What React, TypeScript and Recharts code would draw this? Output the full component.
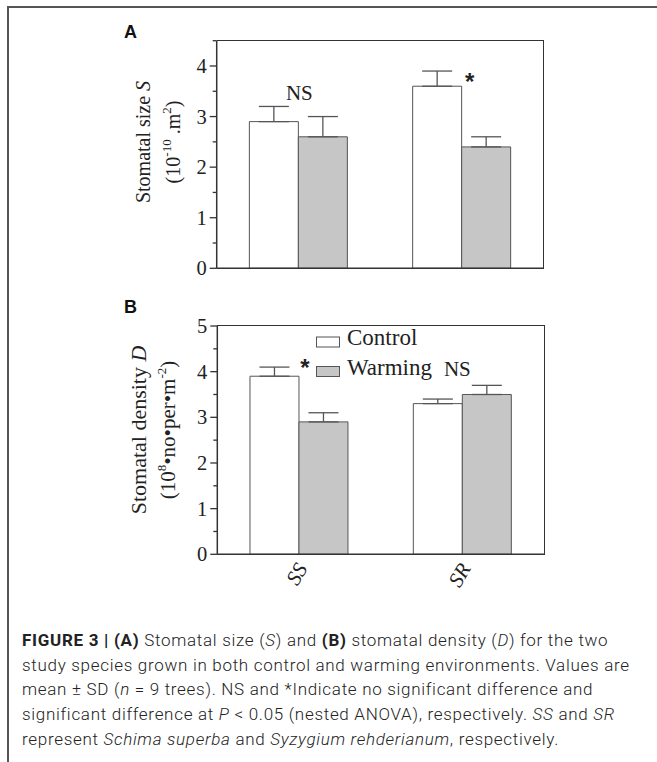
import React from 'react';
import { BarChart, Bar, XAxis, YAxis, ErrorBar, Legend, ReferenceDot } from 'recharts';

const species = ['SS', 'SR'];
const seriesNames = ['Control', 'Warming'];

const sizeControl = [2.9, 3.6];
const sizeControlSD = [0.3, 0.3];
const sizeWarming = [2.6, 2.4];
const sizeWarmingSD = [0.4, 0.2];

const densityControl = [3.9, 3.3];
const densityControlSD = [0.2, 0.1];
const densityWarming = [2.9, 3.5];
const densityWarmingSD = [0.2, 0.2];

const sizeTicks = [0, 0.5, 1, 1.5, 2, 2.5, 3, 3.5, 4, 4.5];
const densityTicks = [0, 0.5, 1, 1.5, 2, 2.5, 3, 3.5, 4, 4.5, 5];
const sizeMax = 4.5;
const densityMax = 5;

// significance labels: category, y value, text, x offset
const sizeSig = [
  { cat: 'SS', y: 3.32, text: 'NS', dx: 1 },
  { cat: 'SR', y: 3.52, text: '*', dx: 8 },
];
const densitySig = [
  { cat: 'SS', y: 3.9, text: '*', dx: 6 },
  { cat: 'SR', y: 3.9, text: 'NS', dx: -5 },
];

const sizeData = species.map((name, i) => ({
  name,
  control: sizeControl[i],
  warming: sizeWarming[i],
  controlErr: [0, sizeControlSD[i]],
  warmingErr: [0, sizeWarmingSD[i]],
}));
const densityData = species.map((name, i) => ({
  name,
  control: densityControl[i],
  warming: densityWarming[i],
  controlErr: [0, densityControlSD[i]],
  warmingErr: [0, densityWarmingSD[i]],
}));

const SERIF = "'Liberation Serif', 'Times New Roman', serif";
const SANS = "'Liberation Sans', Arial, sans-serif";
const AXIS = '#333';
const BAR_STROKE = '#555';
const GRAY = '#c6c6c6';

const YTick = (props: any) => {
  const { x, y, payload } = props;
  const v = payload.value;
  const major = Number.isInteger(v);
  return (
    <g>
      <line x1={x} x2={x - (major ? 7 : 4)} y1={y} y2={y} stroke={AXIS} strokeWidth={1.3} />
      {major && (
        <text x={x - 10} y={y} dy="0.34em" textAnchor="end" fontFamily={SERIF} fontSize={20.5} fill="#222">
          {v}
        </text>
      )}
    </g>
  );
};

const XTick = (props: any) => {
  const { x, y, payload } = props;
  return (
    <text
      transform={`translate(${x + 9},${y + 14}) rotate(-60)`}
      textAnchor="end"
      fontFamily={SERIF}
      fontStyle="italic"
      fontSize={21}
      fill="#222"
    >
      {payload.value}
    </text>
  );
};

const sigLabel = (text: string, dx: number) => (p: any) => {
  const vb = p.viewBox || {};
  const cx = vb.x + (vb.width || 0) / 2 + dx;
  const cy = vb.y + (vb.height || 0) / 2;
  const star = text === '*';
  return (
    <text
      x={cx}
      y={cy}
      textAnchor="middle"
      fontFamily={star ? SANS : SERIF}
      fontWeight={star ? 700 : 400}
      fontSize={star ? 24 : 21}
      fill="#222"
    >
      {text}
    </text>
  );
};

const titleA = (p: any) => {
  const vb = p.viewBox;
  const ax = vb.x + vb.width;
  const cy = 142;
  return (
    <g fontFamily={SERIF} fill="#222">
      <text transform={`translate(${ax - 67},${cy}) rotate(-90)`} textAnchor="middle" fontSize={20}>
        Stomatal size <tspan fontStyle="italic">S</tspan>
      </text>
      <text transform={`translate(${ax - 37},${cy}) rotate(-90)`} textAnchor="middle" fontSize={20}>
        (10<tspan fontSize={13} dy={-9}>-10</tspan>
        <tspan dy={9}> .m</tspan>
        <tspan fontSize={13} dy={-9}>2</tspan>
        <tspan dy={9}>)</tspan>
      </text>
    </g>
  );
};

const titleB = (p: any) => {
  const vb = p.viewBox;
  const ax = vb.x + vb.width;
  const cy = 140;
  return (
    <g fontFamily={SERIF} fill="#222">
      <text transform={`translate(${ax - 71},${cy}) rotate(-90)`} textAnchor="middle" fontSize={22}>
        Stomatal density <tspan fontStyle="italic">D</tspan>
      </text>
      <text transform={`translate(${ax - 42},${cy}) rotate(-90)`} textAnchor="middle" fontSize={21}>
        (10<tspan fontSize={13} dy={-9}>8</tspan>
        <tspan dy={9}>•no•per•m</tspan>
        <tspan fontSize={13} dy={-9}>-2</tspan>
        <tspan dy={9}>)</tspan>
      </text>
    </g>
  );
};

const LegendContent = (props: any) => {
  const payload = props.payload || [];
  return (
    <svg width={140} height={44} style={{ display: 'block', overflow: 'visible' }}>
      {payload.map((entry: any, i: number) => (
        <g key={entry.value} transform={`translate(0,${i * 29.5})`}>
          <rect x={0.5} y={1} width={23} height={10} fill={entry.color} stroke={BAR_STROKE} strokeWidth={1} />
          <text x={31} y={9} fontFamily={SERIF} fontSize={23} fill="#222">
            {entry.value}
          </text>
        </g>
      ))}
    </svg>
  );
};

// top/right frame of each plot panel (drawn as box borders around the plot area)
const frameStyle = (left: number, top: number, right: number, bottom: number): React.CSSProperties => ({
  position: 'absolute',
  left,
  top: top - 0.75,
  width: right - left,
  height: bottom - top,
  borderTop: `1.5px solid ${AXIS}`,
  borderRight: `1.5px solid ${AXIS}`,
  boxSizing: 'content-box',
  pointerEvents: 'none',
});

export default function App() {
  return (
    <div style={{ position: 'absolute', left: 0, top: 0, width: 657, height: 762, background: '#fff' }}>
      <div style={{ position: 'absolute', left: 7, top: 6, width: 650, height: 2, background: '#555' }} />
      <div style={{ position: 'absolute', left: 7, top: 6, width: 2, height: 756, background: '#555' }} />

      <div style={{ position: 'absolute', left: 124, top: 22, fontFamily: SANS, fontWeight: 700, fontSize: 18, color: '#111' }}>A</div>
      <div style={{ position: 'absolute', left: 0, top: 0 }}>
        <BarChart
          width={657}
          height={300}
          data={sizeData}
          margin={{ top: 40.7, right: 113.7, bottom: 30.7, left: 156.7 }}
          barCategoryGap="20%"
          barGap={0}
        >
          <XAxis dataKey="name" tick={false} tickLine={false} height={1} axisLine={{ stroke: AXIS, strokeWidth: 1.5 }} />
          <YAxis
            type="number"
            domain={[0, sizeMax]}
            ticks={sizeTicks}
            interval={0}
            width={60}
            tickSize={0}
            tickMargin={0}
            tick={YTick}
            axisLine={{ stroke: AXIS, strokeWidth: 1.5 }}
            label={{ content: titleA }}
          />
          <Bar dataKey="control" name={seriesNames[0]} fill="#fff" stroke={BAR_STROKE} strokeWidth={1} isAnimationActive={false}>
            <ErrorBar dataKey="controlErr" width={15} stroke={BAR_STROKE} strokeWidth={1.3} direction="y" />
          </Bar>
          <Bar dataKey="warming" name={seriesNames[1]} fill={GRAY} stroke={BAR_STROKE} strokeWidth={1} isAnimationActive={false}>
            <ErrorBar dataKey="warmingErr" width={15} stroke={BAR_STROKE} strokeWidth={1.3} direction="y" />
          </Bar>
          {sizeSig.map((s) => (
            <ReferenceDot key={s.cat} x={s.cat} y={s.y} r={1} fill="none" stroke="none" ifOverflow="visible" label={{ content: sigLabel(s.text, s.dx) }} />
          ))}
        </BarChart>
      </div>
      <div style={frameStyle(216.7, 40.7, 543.3, 268.3)} />

      <div style={{ position: 'absolute', left: 124, top: 297, fontFamily: SANS, fontWeight: 700, fontSize: 18, color: '#111' }}>B</div>
      <div style={{ position: 'absolute', left: 0, top: 290 }}>
        <BarChart
          width={657}
          height={320}
          data={densityData}
          margin={{ top: 36, right: 113, bottom: 5.7, left: 157.3 }}
          barCategoryGap="20%"
          barGap={0}
        >
          <XAxis dataKey="name" tickLine={false} tickSize={0} tickMargin={0} height={50} interval={0} tick={XTick} axisLine={{ stroke: AXIS, strokeWidth: 1.5 }} />
          <YAxis
            type="number"
            domain={[0, densityMax]}
            ticks={densityTicks}
            interval={0}
            width={60}
            tickSize={0}
            tickMargin={0}
            tick={YTick}
            axisLine={{ stroke: AXIS, strokeWidth: 1.5 }}
            label={{ content: titleB }}
          />
          <Legend
            layout="horizontal"
            verticalAlign="middle"
            align="center"
            content={LegendContent}
            wrapperStyle={{ position: 'absolute', left: 316, top: 46, width: 140, height: 44 }}
          />
          <Bar dataKey="control" name={seriesNames[0]} fill="#fff" stroke={BAR_STROKE} strokeWidth={1} isAnimationActive={false}>
            <ErrorBar dataKey="controlErr" width={15} stroke={BAR_STROKE} strokeWidth={1.3} direction="y" />
          </Bar>
          <Bar dataKey="warming" name={seriesNames[1]} fill={GRAY} stroke={BAR_STROKE} strokeWidth={1} isAnimationActive={false}>
            <ErrorBar dataKey="warmingErr" width={15} stroke={BAR_STROKE} strokeWidth={1.3} direction="y" />
          </Bar>
          {densitySig.map((s) => (
            <ReferenceDot key={s.cat} x={s.cat} y={s.y} r={1} fill="none" stroke="none" ifOverflow="visible" label={{ content: sigLabel(s.text, s.dx) }} />
          ))}
        </BarChart>
      </div>
      <div style={frameStyle(217.3, 326, 544, 554.3)} />

      <div
        style={{
          position: 'absolute',
          left: 22,
          top: 628,
          fontFamily: 'Roboto, sans-serif',
          fontWeight: 300,
          fontSize: 17,
          letterSpacing: '0.7px',
          lineHeight: '24.7px',
          color: '#222',
          whiteSpace: 'nowrap',
        }}
      >
        <div>
          <b style={{ fontWeight: 700 }}>FIGURE 3 | (A)</b> Stomatal size (<i>S</i>) and <b style={{ fontWeight: 700 }}>(B)</b> stomatal density (<i>D</i>) for the two
        </div>
        <div>study species grown in both control and warming environments. Values are</div>
        <div>
          mean ± SD (<i>n</i> = 9 trees). NS and *Indicate no significant difference and
        </div>
        <div>
          significant difference at <i>P</i> &lt; 0.05 (nested ANOVA), respectively. <i>SS</i> and <i>SR</i>
        </div>
        <div>
          represent <i>Schima superba</i> and <i>Syzygium rehderianum</i>, respectively.
        </div>
      </div>
    </div>
  );
}
